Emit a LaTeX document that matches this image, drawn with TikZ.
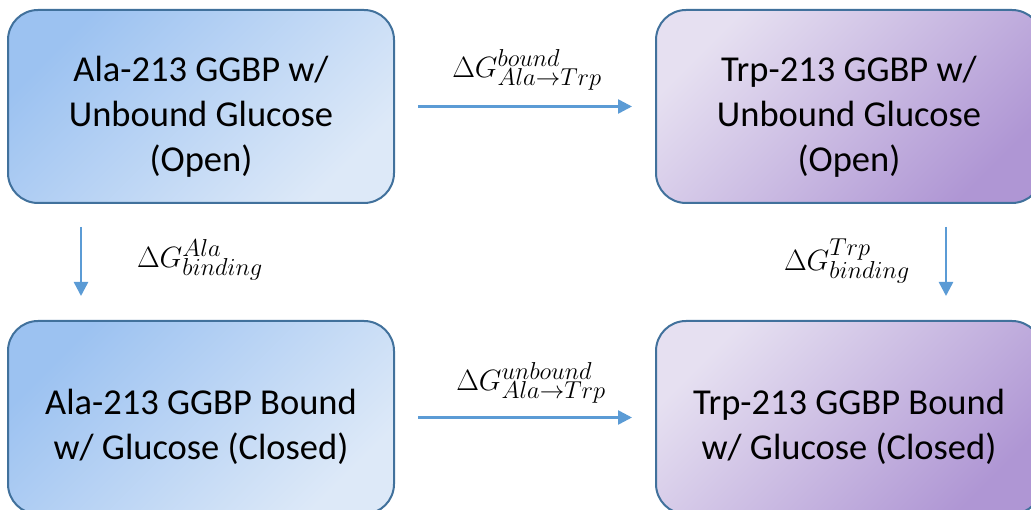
\documentclass[tikz,border=0pt]{standalone}
\usepackage[no-math]{fontspec}
\setmainfont{Carlito}
\usetikzlibrary{arrows.meta}

\definecolor{edgeblue}{HTML}{41719C}
\definecolor{arrowblue}{HTML}{5B9BD5}
\definecolor{alaA}{HTML}{9CC2F1}
\definecolor{alaB}{HTML}{DDE9F8}
\definecolor{trpA}{HTML}{E6E0F1}
\definecolor{trpB}{HTML}{AF96D4}

\tikzset{
  statebox/.style={draw=edgeblue, line width=2pt, rounded corners=30pt,
    minimum width=386pt, minimum height=193pt, inner sep=0pt},
  alabox/.style={statebox, top color=alaA, bottom color=alaB, shading angle=45},
  trpbox/.style={statebox, top color=trpA, bottom color=trpB, shading angle=45},
  boxtext/.style={align=center, font=\fontsize{36.5}{45}\selectfont, inner sep=0pt},
  dglabel/.style={font=\fontsize{24.88}{30}\selectfont, inner sep=0pt,
    scale=1.18, transform shape},
  flow/.style={draw=arrowblue, line width=2.5pt,
    -{Triangle[length=14pt,width=14pt]}}
}

\begin{document}
\begin{tikzpicture}[x=1pt,y=-1pt]
\useasboundingbox (0,0) rectangle (1031,510);
\clip (0,0) rectangle (1031,510);

% thermodynamic cycle states
\node[alabox] (tl) at (201,106.5) {};
\node[trpbox] (tr) at (849,106.5) {};
\node[alabox] (bl) at (201,417.5) {};
\node[trpbox] (br) at (849,417.5) {};

\node[boxtext] (tlt) at ([yshift=-10pt]tl.center) {Ala-213 GGBP w/\\Unbound Glucose\\(Open)};
\node[boxtext] (trt) at ([yshift=-10pt]tr.center) {Trp-213 GGBP w/\\Unbound Glucose\\(Open)};
\node[boxtext] (blt) at ([yshift=-9pt]bl.center) {Ala-213 GGBP Bound\\w/ Glucose (Closed)};
\node[boxtext] (brt) at ([yshift=-9pt]br.center) {Trp-213 GGBP Bound\\w/ Glucose (Closed)};

% free-energy legs
\draw[flow, shorten <=23pt, shorten >=23pt] (tl) -- (tr);
\draw[flow, shorten <=23pt, shorten >=23pt] (bl) -- (br);
\draw[flow, shorten <=23pt, shorten >=24pt] ([xshift=74pt]tl.south west) -- ([xshift=74pt]bl.north west);
\draw[flow, shorten <=23pt, shorten >=24pt] ([xshift=-97pt]tr.south east) -- ([xshift=-97pt]br.north east);

\node[dglabel] (g1) at (527,70) {$\Delta G^{bound}_{Ala\rightarrow Trp}$};
\node[dglabel] (g2) at (531,383) {$\Delta G^{unbound}_{Ala\rightarrow Trp}$};
\node[dglabel] (g3) at (200,260) {$\Delta G^{Ala}_{binding}$};
\node[dglabel] (g4) at (847,261) {$\Delta G^{Trp}_{binding}$};
\end{tikzpicture}
\end{document}
